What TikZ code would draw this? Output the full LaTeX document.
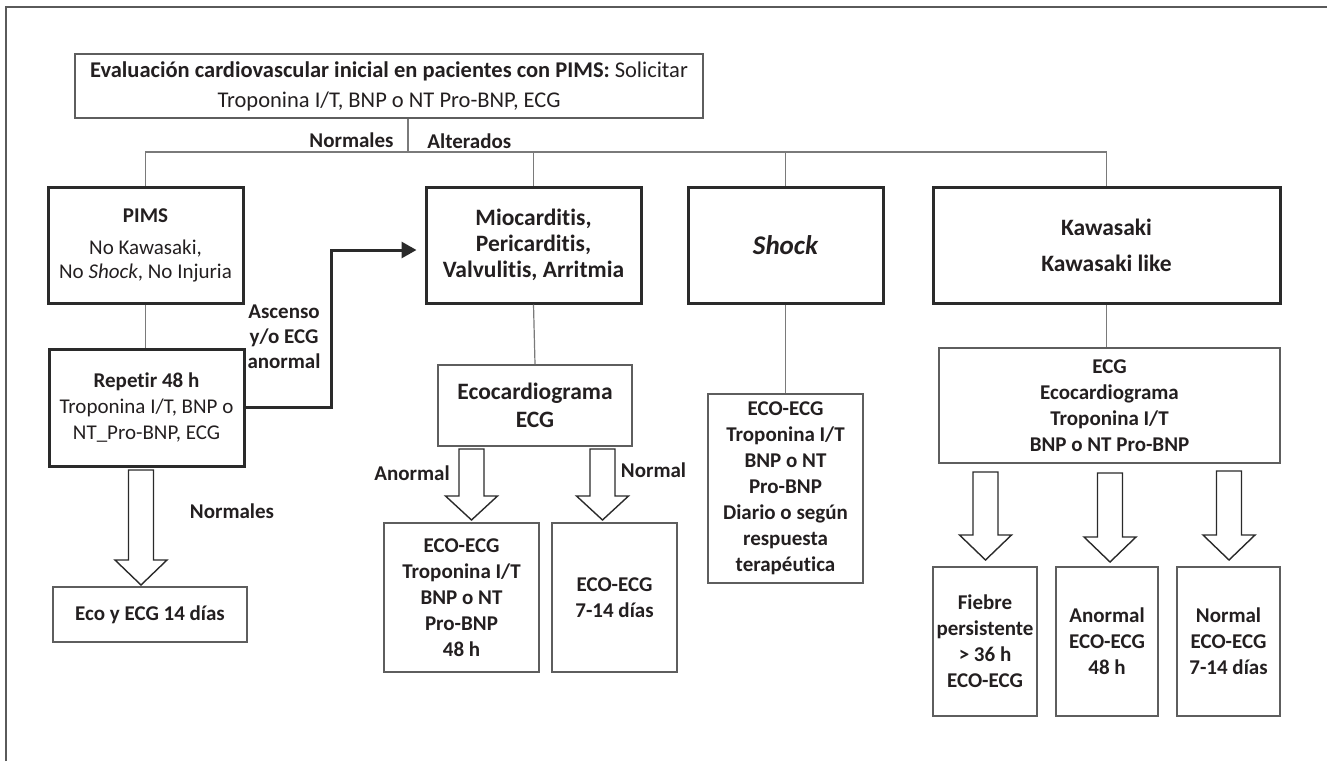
\documentclass[tikz,border=0pt]{standalone}
\usepackage{fontspec}
\setmainfont{Carlito}[Ligatures=NoCommon]
\usetikzlibrary{arrows.meta,calc}
\definecolor{txt}{HTML}{231F20}
\definecolor{darkln}{HTML}{2A2A2A}
\definecolor{thinln}{HTML}{5E5E5E}
\definecolor{connln}{HTML}{7A7A7A}
\definecolor{frameln}{HTML}{5A5A5A}
\newcommand\blockarr[4]{%
  \draw[barrow] (#1-12.5,#2) -- (#1+12.5,#2) -- (#1+12.5,#3) -- (#1+26,#3)
    -- (#1,#4) -- (#1-26,#3) -- (#1-12.5,#3) -- cycle;}
\begin{document}
\begin{tikzpicture}[x=0.5pt,y=-0.5pt,
  every node/.style={text=txt, font=\fontsize{10.5}{13}\selectfont, align=center, inner sep=0pt},
  sz/.style n args={2}{minimum width=#1*0.5pt, minimum height=#2*0.5pt},
  mainbox/.style={draw=darkln, line width=1.5pt},
  subbox/.style={draw=thinln, line width=0.8pt},
  bld/.style={font=\bfseries\fontsize{10.5}{13}\selectfont},
  midf/.style={font=\bfseries\fontsize{11.75}{13}\selectfont},
  lbl/.style={font=\bfseries\fontsize{10.5}{12.5}\selectfont},
  connector/.style={draw=connln, line width=0.6pt},
  bigarrow/.style={draw=darkln, line width=1.5pt, -{Triangle[length=7.5pt,width=8pt]}},
  barrow/.style={draw=darkln, fill=white, line width=0.7pt, line join=miter}]
\useasboundingbox (0,0) rectangle (1327,761);
% frame
\draw[frameln, line width=1pt] (6,761) -- (6,7) -- (1327,7);

% top box
\node[subbox, sz={628}{64}, font=\fontsize{11.25}{15}\selectfont] (top) at (389,86)
  {\textbf{Evaluación cardiovascular inicial en pacientes con PIMS:} Solicitar\\Troponina I/T, BNP o NT Pro-BNP, ECG};

% left column
\node[mainbox, sz={195}{116}, font=\fontsize{10.5}{12}\selectfont] (pims) at (145.5,245)
  {\textbf{PIMS}\\[4pt]No Kawasaki,\\No \textit{Shock}, No Injuria};
\node[mainbox, sz={195}{117}] (rep) at (146.5,407.5)
  {\textbf{Repetir 48 h}\\Troponina I/T, BNP o\\NT\_Pro-BNP, ECG};
\node[subbox, sz={194}{55}, bld] (eco14) at (150,614.5) {Eco y ECG 14 días};

% middle column
\node[mainbox, sz={215}{116}, midf] (mio) at (533.5,245)
  {Miocarditis,\\Pericarditis,\\Valvulitis, Arritmia};
\node[subbox, sz={194}{81}, font=\bfseries\fontsize{11.75}{14}\selectfont] (ecocg) at (535,405.5)
  {Ecocardiograma\\ECG};
\node[subbox, sz={155}{149}, bld] (ma) at (461.5,597.5)
  {ECO-ECG\\Troponina I/T\\BNP o NT\\Pro-BNP\\48 h};
\node[subbox, sz={125}{149}, bld] (mb) at (614.5,597.5)
  {ECO-ECG\\7-14 días};

% shock column
\node[mainbox, sz={195}{116}, font=\bfseries\itshape\fontsize{13.5}{16}\selectfont] (shock) at (785.5,245) {Shock};
\node[subbox, sz={155}{189}, bld] (shockeco) at (785.5,488.5)
  {ECO-ECG\\Troponina I/T\\BNP o NT\\Pro-BNP\\Diario o según\\respuesta\\terapéutica};

% kawasaki column
\node[mainbox, sz={347}{116}, font=\bfseries\fontsize{11.75}{18}\selectfont] (kawa) at (1106.5,245)
  {Kawasaki\\Kawasaki like};
\node[subbox, sz={341}{115}, bld] (kawt) at (1109.5,405.5)
  {ECG\\Ecocardiograma\\Troponina I/T\\BNP o NT Pro-BNP};
\node[subbox, sz={104}{149}, bld] (k1) at (985,641.5) {Fiebre\\persistente\\> 36 h\\ECO-ECG};
\node[subbox, sz={102}{149}, bld] (k2) at (1107,641.5) {Anormal\\ECO-ECG\\48 h};
\node[subbox, sz={103}{149}, bld] (k3) at (1228.5,641.5) {Normal\\ECO-ECG\\7-14 días};

% connectors
\coordinate (hub) at (408,152);
\draw[connector] (top.south -| hub) -- (hub);
\draw[connector] (pims.north) -- (pims.north |- hub) -- (kawa.north |- hub) -- (kawa.north);
\draw[connector] (mio.north) -- (mio.north |- hub);
\draw[connector] (shock.north) -- (shock.north |- hub);
\draw[connector] (pims.south) -- (pims.south |- rep.north);
\draw[connector] (mio.south) -- (ecocg.north);
\draw[connector] (shock.south) -- (shockeco.north);
\draw[connector] (kawa.south) -- (kawa.south |- kawt.north);

% thick arrow
\coordinate (bend) at (331,250);
\draw[bigarrow] (rep.east) -- (rep.east -| bend) -- (bend) -- ($(mio.west)+(-8,5)$);

% block arrows
\blockarr{141}{470}{560}{585}
\blockarr{471.5}{449}{496}{520}
\blockarr{602.5}{449}{496}{520}
\blockarr{985.5}{472}{535}{560}
\blockarr{1110}{473}{537}{562}
\blockarr{1229}{471}{535}{560}

% labels
\node[lbl, anchor=east] (lnorm) at (394,140) {Normales};
\node[lbl, anchor=west] (lalt) at (427,141) {Alterados};
\node[lbl] (lasc) at (284,337) {Ascenso\\y/o ECG\\anormal};
\node[lbl] (lnorm2) at (232,511) {Normales};
\node[lbl] (lanor) at (412,473) {Anormal};
\node[lbl] (lnormal) at (653.5,470) {Normal};
\end{tikzpicture}
\end{document}
